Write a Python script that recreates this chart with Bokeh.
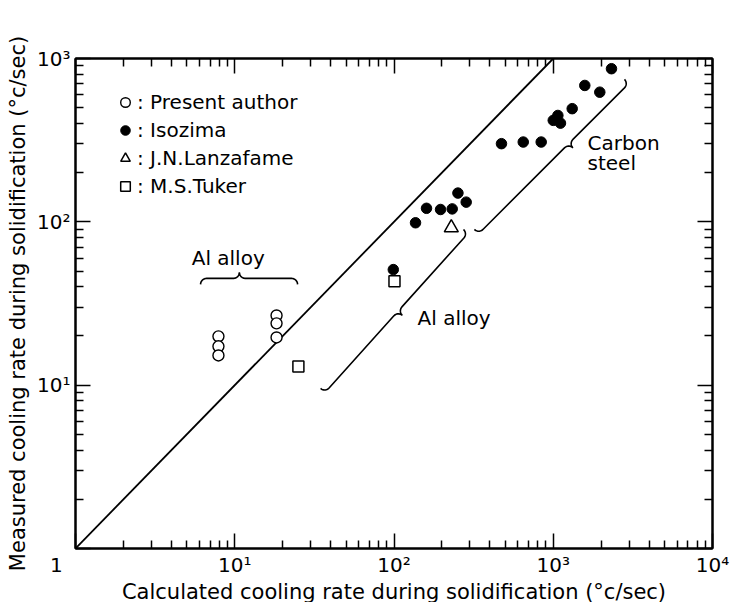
import numpy as np
from bokeh.plotting import figure
from bokeh.models import (LogAxis, FixedTicker, CustomJSTickFormatter, Legend,
                          LegendItem, ColumnDataSource)
from bokeh.core.properties import value
from bokeh.embed import file_html
from bokeh.resources import INLINE

# ---------------- data ----------------
present_x = [7.9, 7.9, 7.9, 18.3, 18.3, 18.3]
present_y = [19.9, 17.3, 15.2, 26.7, 23.9, 19.6]

isozima_x = [99, 136.5, 160, 196, 232, 252, 284, 473, 648, 840,
             1000, 1069, 1110, 1315, 1578, 1960, 2321]
isozima_y = [51, 98.7, 121, 119, 120, 150, 132, 301, 308, 308,
             418, 448, 402, 493, 684, 622, 866]

lanzafame_x = [229]
lanzafame_y = [92]

tuker_x = [25.1, 100.7]
tuker_y = [13.0, 43.2]

diag_x = [1, 1000]
diag_y = [1, 1000]

x_major = [1, 10, 100, 1000, 10000]
y_major = [1, 10, 100, 1000]
tick_labels = {"1": "1" + "\u00a0" * 6, "10": "10¹", "100": "10²",
               "1000": "10³", "10000": "10⁴"}
y_tick_labels = {"10": "10¹", "100": "10²", "1000": "10³"}

# annotation braces: end points in data units, cusp fraction, side
brace_a = [(6.1, 41.4), (34.6, 9.55), (320, 89.8)]
brace_b = [(24.8, 41.4), (273, 89.8), (2800, 745)]
brace_frac = [0.40, 0.51, 0.60]
brace_side = [-1, 1, 1]

ann_text = ["Al alloy", "Al alloy", "Carbon", "steel"]
ann_x = [9.1, 140.6, 1641, 1641]
ann_y = [59.7, 25.6, 302, 228]
ann_align = ["center", "left", "left", "left"]

# ---------------- figure ----------------
FW, FH = 637, 490
FONT = "DejaVu Sans"
X0, X1 = 1.0, 1e4
Y0, Y1 = 1.0, 1e3

p = figure(frame_width=FW, frame_height=FH,
           x_axis_type="log", y_axis_type="log",
           x_range=(X0, X1), y_range=(Y0, Y1),
           min_border_left=75, min_border_right=24,
           min_border_top=58, min_border_bottom=54,
           output_backend="svg", toolbar_location=None)
p.xgrid.visible = False
p.ygrid.visible = False
p.outline_line_color = "black"
p.outline_line_width = 2
p.background_fill_color = None
p.border_fill_color = "white"

x_minor = [float(m * 10 ** k) for k in range(4) for m in range(2, 10)]
y_minor = [float(m * 10 ** k) for k in range(3) for m in range(2, 10)]

fmt_code = """
const m = %s;
const k = String(Math.round(tick));
return (k in m) ? m[k] : "";
"""


def js_map(d):
    return "{" + ",".join('"%s":"%s"' % (k, v) for k, v in d.items()) + "}"


x_fmt = CustomJSTickFormatter(code=fmt_code % js_map(tick_labels))
y_fmt = CustomJSTickFormatter(code=fmt_code % js_map(y_tick_labels))
blank_fmt = CustomJSTickFormatter(code='return "";')


def style_axis(ax, ticker, fmt):
    ax.ticker = ticker
    ax.formatter = fmt
    ax.major_tick_in = 15
    ax.major_tick_out = 0
    ax.minor_tick_in = 8
    ax.minor_tick_out = 0
    ax.major_tick_line_width = 1.5
    ax.minor_tick_line_width = 1.5
    ax.major_tick_line_color = "black"
    ax.minor_tick_line_color = "black"
    ax.axis_line_width = 2
    ax.major_label_text_font = FONT
    ax.major_label_text_font_size = "20px"
    ax.major_label_text_color = "black"
    ax.axis_label_text_font = FONT
    ax.axis_label_text_font_size = "21px"
    ax.axis_label_text_font_style = "normal"
    ax.axis_label_text_color = "black"


style_axis(p.xaxis[0], FixedTicker(ticks=x_major, minor_ticks=x_minor), x_fmt)
style_axis(p.yaxis[0], FixedTicker(ticks=y_major, minor_ticks=y_minor), y_fmt)
p.xaxis[0].axis_label = "Calculated cooling rate during solidification (°c/sec)"
p.yaxis[0].axis_label = "Measured cooling rate during solidification (°c/sec)"
p.xaxis[0].major_label_standoff = 4
p.xaxis[0].axis_label_standoff = 0
p.yaxis[0].major_label_standoff = 5
p.yaxis[0].axis_label_standoff = 4

top_ax = LogAxis()
right_ax = LogAxis()
style_axis(top_ax, FixedTicker(ticks=x_major, minor_ticks=x_minor), blank_fmt)
style_axis(right_ax, FixedTicker(ticks=y_major, minor_ticks=y_minor), blank_fmt)
p.add_layout(top_ax, "above")
p.add_layout(right_ax, "right")

# pixels per decade (for drawing the braces with a true pixel shape)
sx = float(FW / np.log10(X1 / X0))
sy = float(FH / np.log10(Y1 / Y0))

# diagonal y = x
p.line(diag_x, diag_y, line_color="black", line_width=1.8)

# braces
r = 6.0


def brace(a, b, frac, side):
    au, av = np.log10(a[0]) * sx, np.log10(a[1]) * sy
    bu, bv = np.log10(b[0]) * sx, np.log10(b[1]) * sy
    L = np.hypot(bu - au, bv - av)
    t = np.array([(bu - au) / L, (bv - av) / L])
    n = side * np.array([t[1], -t[0]])
    c = frac * L
    th = np.linspace(0, np.pi / 2, 12)
    s = np.concatenate([r - r * np.cos(th),
                        c - r + r * np.sin(th),
                        c + r - r * np.sin(th[::-1]),
                        L - r + r * np.sin(th)])
    d = np.concatenate([r * np.sin(th),
                        2 * r - r * np.cos(th),
                        2 * r - r * np.cos(th[::-1]),
                        r * np.cos(th)])
    u = au + s * t[0] + d * n[0]
    v = av + s * t[1] + d * n[1]
    return 10 ** (u / sx), 10 ** (v / sy)


bx, by = [], []
for a, b, f, sd in zip(brace_a, brace_b, brace_frac, brace_side):
    xx, yy = brace(a, b, f, sd)
    bx.append([float(q) for q in xx])
    by.append([float(q) for q in yy])
p.multi_line(bx, by, line_color="black", line_width=1.6)

# annotation texts
ann_src = ColumnDataSource(dict(x=ann_x, y=ann_y, text=ann_text, align=ann_align))
p.text(x="x", y="y", text="text", source=ann_src, text_align="align",
       text_baseline="middle", text_font=value(FONT), text_font_size="20px",
       text_color="black")

# data series
r_present = p.scatter(present_x, present_y, marker="circle", size=11,
                      fill_color="white", line_color="black", line_width=1.4)
r_isozima = p.scatter(isozima_x, isozima_y, marker="circle", size=10.5,
                      fill_color="black", line_color="black")
r_lanz = p.scatter(lanzafame_x, lanzafame_y, marker="triangle", size=14,
                   fill_color="white", line_color="black", line_width=1.5)
r_tuker = p.scatter(tuker_x, tuker_y, marker="square", size=11,
                    fill_color="white", line_color="black", line_width=1.5)

legend = Legend(items=[
    LegendItem(label=": Present author", renderers=[r_present]),
    LegendItem(label=": Isozima", renderers=[r_isozima]),
    LegendItem(label=": J.N.Lanzafame", renderers=[r_lanz]),
    LegendItem(label=": M.S.Tuker", renderers=[r_tuker]),
], location=(38, 350), padding=0, margin=0, spacing=4,
    glyph_width=24, glyph_height=24, label_height=24, label_standoff=0,
    label_text_font=FONT, label_text_font_size="20px",
    label_text_color="black", border_line_alpha=0,
    background_fill_alpha=0)
p.add_layout(legend)

open("out.html", "w").write(file_html(p, INLINE))
